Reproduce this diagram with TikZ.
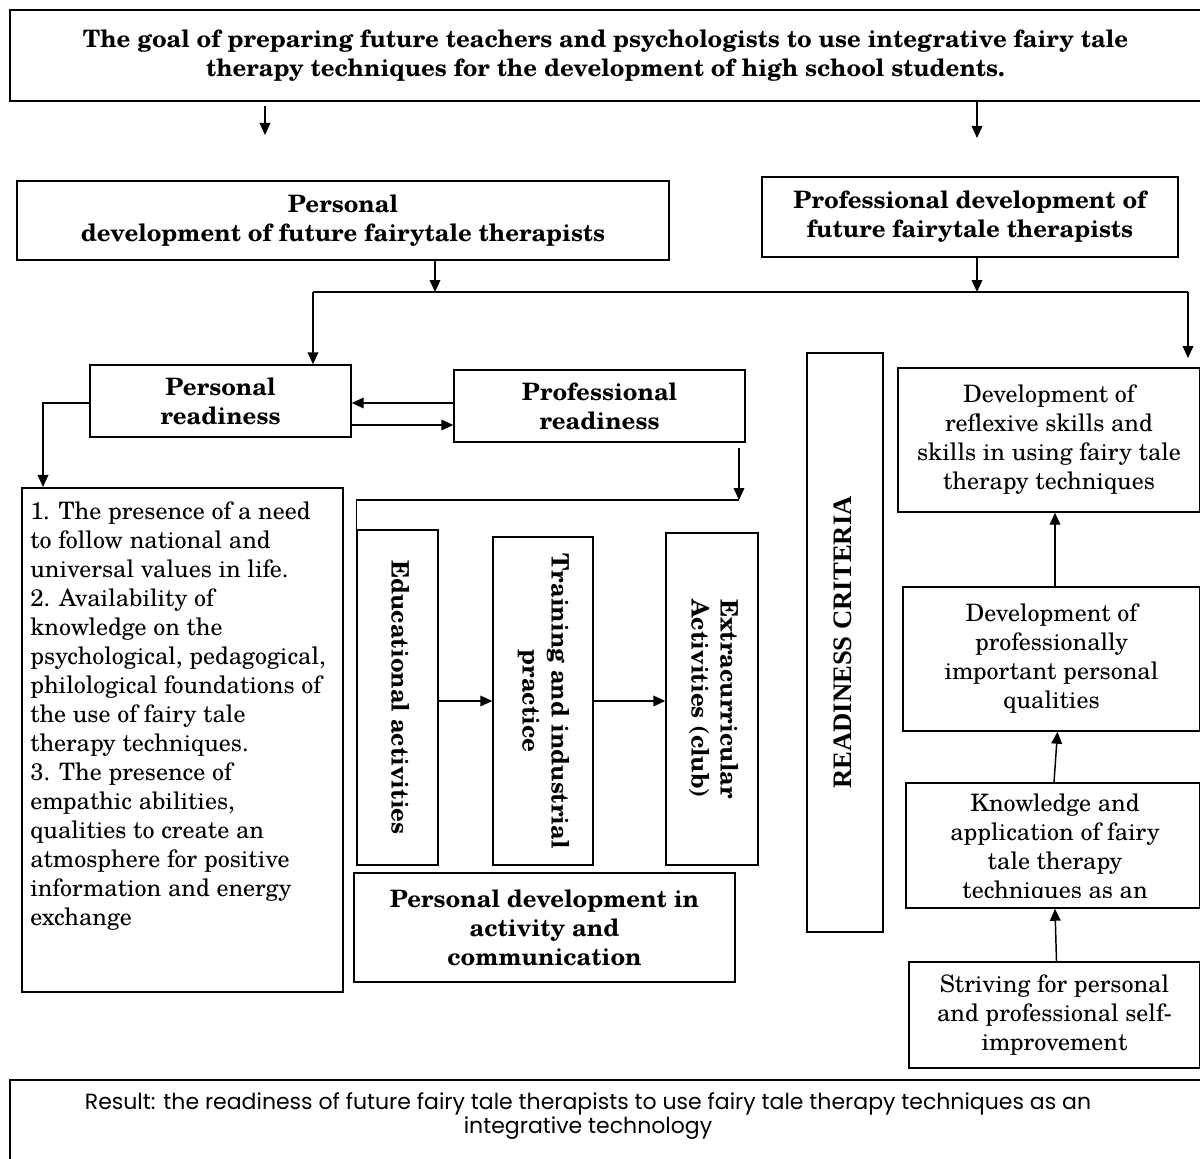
\documentclass[tikz,border=0pt]{standalone}
\usepackage{fontspec}
\setmainfont{TeX Gyre Schola}
\newfontfamily\resfont{Poppins}
\newfontfamily\timesfont{Liberation Serif}
\usetikzlibrary{arrows.meta,positioning}

\newcommand{\pxu}{0.75pt}
\newcommand{\vtext}[2]{\rotatebox{#1}{\begin{tabular}{@{}c@{}}#2\end{tabular}}}

\begin{document}
\begin{tikzpicture}[x=0.75pt,y=-0.75pt,>={Triangle[length=9pt,width=8pt]},
  every node/.style={font=\fontsize{18}{21.75}\selectfont},
  box/.style={draw,line width=1.1pt,inner sep=0pt,align=center},
  bbox/.style={box,font=\fontsize{18}{21.75}\selectfont\bfseries},
  conn/.style={->,line width=1.1pt},
  wire/.style={line width=1.1pt}]
\useasboundingbox (0,0) rectangle (1200,1159);
\fill[white] (0,0) rectangle (1200,1159);

\node[bbox,line width=1.6pt,minimum width=1191*\pxu,minimum height=91*\pxu] (G) at (605.5,55.5)
  {The goal of preparing future teachers and psychologists to use integrative fairy tale\\therapy techniques for the development of high school students.};
\node[bbox,minimum width=652*\pxu,minimum height=79*\pxu] (PD) at (343,220.5)
  {Personal\\development of future fairytale therapists};
\node[bbox,minimum width=416*\pxu,minimum height=80*\pxu] (PF) at (970,217)
  {Professional development of\\future fairytale therapists};
\node[bbox,minimum width=261*\pxu,minimum height=72*\pxu] (PR) at (220.5,401) {Personal\\readiness};
\node[bbox,minimum width=291*\pxu,minimum height=72*\pxu] (FR) at (599.5,406) {Professional\\readiness};

\node[box,line width=1.6pt,minimum width=321*\pxu,minimum height=504*\pxu] (CR) at (182.5,740) {};
\node[anchor=north west,align=left,inner sep=0pt] (CRt) at (30,502)
  {1. The presence of a need\\to follow national and\\universal values in life.\\2. Availability of\\knowledge on the\\psychological, pedagogical,\\philological foundations of\\the use of fairy tale\\therapy techniques.\\3. The presence of\\empathic abilities,\\qualities to create an\\atmosphere for positive\\information and energy\\exchange};

\node[bbox,minimum width=81*\pxu,minimum height=335*\pxu] (ED) at (397.5,697.5) {\vtext{-90}{Educational activities}};
\node[bbox,minimum width=100*\pxu,minimum height=328*\pxu] (TR) at (543,701) {\vtext{-90}{Training and industrial\\practice}};
\node[bbox,minimum width=92*\pxu,minimum height=332*\pxu] (EX) at (712,699) {\vtext{-90}{Extracurricular\\Activities (club)}};
\node[bbox,minimum width=381*\pxu,minimum height=109*\pxu] (PA) at (544.5,927.5)
  {Personal development in\\activity and\\communication};
\node[bbox,minimum width=76*\pxu,minimum height=579*\pxu,font=\timesfont\fontsize{20}{24}\selectfont\bfseries] (RC) at (845,642.5)
  {\vtext{90}{READINESS CRITERIA}};

\node[box,minimum width=302*\pxu,minimum height=144*\pxu] (R1) at (1049,440)
  {Development of\\reflexive skills and\\skills in using fairy tale\\therapy techniques};
\node[box,minimum width=297*\pxu,minimum height=144*\pxu] (R2) at (1051.5,659)
  {Development of\\professionally\\important personal\\qualities};
\begin{scope}
  \clip ([yshift=8pt]906,908) rectangle (1200,783);
  \node[align=center,anchor=north,inner sep=0pt] (R3t) at (1055,794)
    {Knowledge and\\application of fairy\\tale therapy\\techniques as an};
\end{scope}
\node[box,minimum width=294*\pxu,minimum height=125*\pxu] (R3) at (1053,845.5) {};
\node[box,minimum width=291*\pxu,minimum height=106*\pxu] (R4) at (1054.5,1015)
  {Striving for personal\\and professional self-\\improvement};

\node[box,line width=1.3pt,minimum width=1191*\pxu,minimum height=100*\pxu] (RS) at (605.5,1130) {};
\node[align=center,inner sep=0pt,font=\resfont\fontsize{16.5}{18}\selectfont] (RSt) at (588,1116)
  {Result: the readiness of future fairy tale therapists to use fairy tale therapy techniques as an\\integrative technology};

\coordinate (g1) at (265,135);
\coordinate (g2) at (977,138);
\coordinate (p1) at (435,292);
\coordinate (p2) at (977,292);
\coordinate (hl) at (313,292);
\coordinate (hr) at (1188,292);
\coordinate (r1) at (1188,358);
\coordinate (a1) at (0,403);
\coordinate (a2) at (0,425);
\coordinate (l1) at (43,403);
\coordinate (f1) at (739,500);
\coordinate (u1) at (1055,0);

\path ([yshift=-3pt]G.south -| g1) edge[conn] (g1)
      (G.south -| g2) edge[conn] (g2)
      (PD.south -| p1) edge[conn] (p1)
      (PF.south -| p2) edge[conn] (p2);
\draw[wire] (hl) -- (hr);
\path (hl) edge[conn] (hl |- PR.north)
      (hr) edge[conn] (r1);
\path (FR.west |- a1) edge[conn] (PR.east |- a1)
      (PR.east |- a2) edge[conn] (FR.west |- a2);
\draw[conn] (PR.west |- l1) -- (l1) -- (l1 |- CR.north);
\path ([yshift=-4pt]FR.south -| f1) edge[conn] (f1);
\draw[wire] (f1) -- (f1 -| ED.north west) -- (ED.north west);
\path (ED.east |- TR.west) edge[conn] (TR.west)
      (TR.east) edge[conn] (TR.east -| EX.west);
\path (R2.north -| u1) edge[conn] (R1.south -| u1)
      ([xshift=0.75pt]R3.north) edge[conn] ([xshift=4.5pt]R2.south)
      ([xshift=1.5pt]R4.north) edge[conn] ([xshift=1.5pt]R3.south);
\end{tikzpicture}
\end{document}
